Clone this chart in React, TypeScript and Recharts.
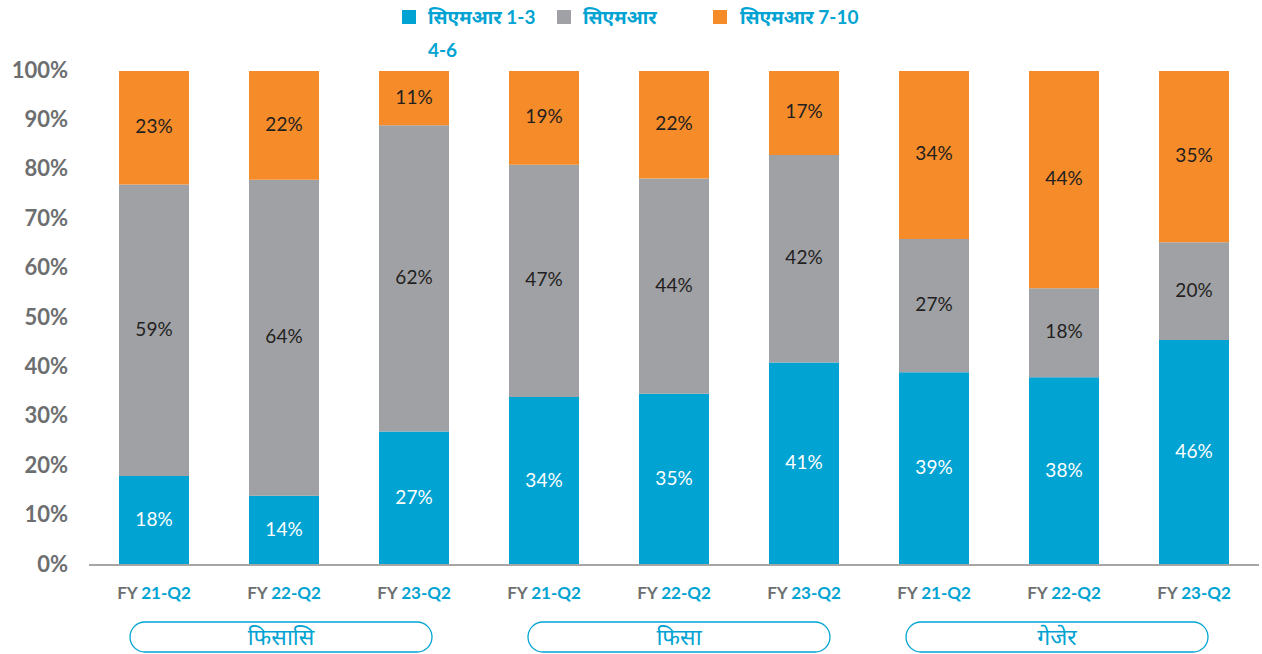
import React from "react";
import { BarChart, Bar, XAxis, YAxis, LabelList } from "recharts";

const periods = ["21-Q2", "22-Q2", "23-Q2", "21-Q2", "22-Q2", "23-Q2", "21-Q2", "22-Q2", "23-Q2"];
const groups = ["फिसासि", "फिसा", "गेजेर"];
const cmr13 = [18, 14, 27, 34, 35, 41, 39, 38, 46];
const cmr46 = [59, 64, 62, 47, 44, 42, 27, 18, 20];
const cmr710 = [23, 22, 11, 19, 22, 17, 34, 44, 35];
const yTicks = [0, 0.1, 0.2, 0.3, 0.4, 0.5, 0.6, 0.7, 0.8, 0.9, 1];

const BLUE = "#00a3d2";
const GRAY = "#a0a1a5";
const ORANGE = "#f68b29";
const TEXT_GRAY = "#6d6e70";
const DARK = "#231f20";
const FONT = "Lato, 'Noto Sans', sans-serif";

// small nudges so the group pills sit where the original slide put them
const pillShift = [-3, 5, -7];

const data = periods.map((p, i) => ({
  period: p,
  idx: i,
  cmr13: cmr13[i],
  cmr46: cmr46[i],
  cmr710: cmr710[i],
}));

function makeLabel(values: number[], color: string) {
  return (props: any) => {
    const { x, y, width, height, index } = props;
    return (
      <text
        x={x + width / 2}
        y={y + height / 2 - 2}
        textAnchor="middle"
        dominantBaseline="central"
        fill={color}
        fontSize={19}
        fontFamily={FONT}
      >
        {values[index]}%
      </text>
    );
  };
}

function YTick({ y, payload }: any) {
  return (
    <text
      x={68}
      y={y - 2}
      textAnchor="end"
      dominantBaseline="central"
      fill={TEXT_GRAY}
      fontSize={22}
      fontWeight={700}
      fontFamily={FONT}
    >
      {Math.round(payload.value * 100)}%
    </text>
  );
}

function XTick({ x, y, payload, index }: any) {
  const groupIdx = index % 3 === 1 ? Math.floor(index / 3) : -1;
  const cx = groupIdx >= 0 ? x + pillShift[groupIdx] : x;
  return (
    <g>
      <text
        x={x}
        y={y + 26}
        textAnchor="middle"
        fontSize={17}
        fontWeight={700}
        fontFamily={FONT}
      >
        <tspan fill={TEXT_GRAY}>FY </tspan>
        <tspan fill={BLUE}>{payload.value}</tspan>
      </text>
      {groupIdx >= 0 && (
        <g>
          <rect
            x={cx - 151}
            y={y + 49}
            width={302}
            height={30}
            rx={15}
            ry={15}
            fill="none"
            stroke={BLUE}
            strokeWidth={1.3}
          />
          <text
            x={cx}
            y={y + 63}
            textAnchor="middle"
            dominantBaseline="central"
            fill={BLUE}
            fontSize={23}
            fontFamily={FONT}
          >
            {groups[groupIdx]}
          </text>
        </g>
      )}
    </g>
  );
}

const legendText: React.CSSProperties = {
  position: "absolute",
  color: BLUE,
  fontSize: 19,
  fontWeight: 700,
  fontFamily: FONT,
  lineHeight: "20px",
  whiteSpace: "nowrap",
};

function Swatch({ left, color }: { left: number; color: string }) {
  return (
    <div
      style={{
        position: "absolute",
        left,
        top: 10,
        width: 14,
        height: 14,
        background: color,
      }}
    />
  );
}

export default function App() {
  return (
    <div style={{ position: "absolute", left: 0, top: 0, width: 1262, height: 654, background: "#fff" }}>
      <BarChart
        width={1262}
        height={654}
        data={data}
        stackOffset="expand"
        margin={{ top: 71, right: 3, bottom: 0, left: 0 }}
      >
        <XAxis
          dataKey="idx"
          height={89}
          axisLine={{ stroke: "#a6a6a6", strokeWidth: 2 }}
          tickLine={false}
          interval={0}
          tick={(props: any) => (
            <XTick {...props} payload={{ value: periods[props.payload.value] }} />
          )}
        />
        <YAxis
          width={89}
          domain={[0, 1]}
          ticks={yTicks}
          axisLine={false}
          tickLine={false}
          tick={<YTick />}
        />
        <Bar dataKey="cmr13" stackId="a" fill={BLUE} barSize={70} isAnimationActive={false}>
          <LabelList dataKey="cmr13" content={makeLabel(cmr13, "#ffffff")} />
        </Bar>
        <Bar dataKey="cmr46" stackId="a" fill={GRAY} barSize={70} isAnimationActive={false}>
          <LabelList dataKey="cmr46" content={makeLabel(cmr46, DARK)} />
        </Bar>
        <Bar dataKey="cmr710" stackId="a" fill={ORANGE} barSize={70} isAnimationActive={false}>
          <LabelList dataKey="cmr710" content={makeLabel(cmr710, DARK)} />
        </Bar>
      </BarChart>
      <Swatch left={402} color={BLUE} />
      <div style={{ ...legendText, left: 428, top: 7 }}>सिएमआर 1-3</div>
      <div style={{ ...legendText, left: 428, top: 40 }}>4-6</div>
      <Swatch left={557} color={GRAY} />
      <div style={{ ...legendText, left: 583, top: 7 }}>सिएमआर</div>
      <Swatch left={713} color={ORANGE} />
      <div style={{ ...legendText, left: 740, top: 7 }}>सिएमआर 7-10</div>
    </div>
  );
}
